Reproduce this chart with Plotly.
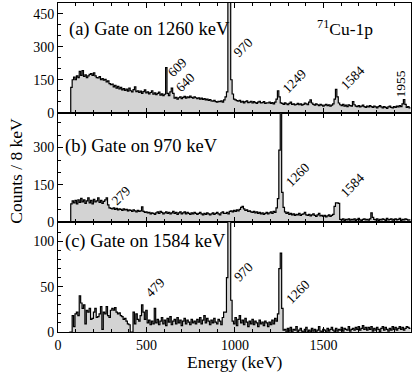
import plotly.graph_objects as go
from plotly.subplots import make_subplots

# 8 keV bins, first bin starts at 64 keV
bin_start = 64
bin_width = 8

# (a) gate on 1260 keV
gate_1260 = [
    0, 115, 150, 162, 150, 168, 160, 188, 170, 192,
    165, 172, 160, 168, 175, 178, 170, 182, 168, 160,
    158, 164, 150, 155, 148, 152, 140, 145, 132, 128,
    130, 118, 125, 112, 120, 108, 115, 104, 110, 102,
    108, 98, 112, 100, 95, 105, 118, 96, 100, 92,
    98, 88, 96, 104, 90, 95, 86, 92, 100, 84,
    90, 82, 88, 94, 80, 86, 78, 84, 205, 88,
    78, 95, 112, 88, 66, 70, 62, 68, 72, 64,
    70, 74, 66, 72, 68, 75, 70, 66, 72, 68,
    64, 68, 62, 66, 60, 64, 58, 62, 56, 60,
    54, 52, 56, 50, 48, 52, 50, 54, 48, 58,
    72, 95, 600, 1200, 150, 85, 62, 58, 55, 52,
    56, 48, 52, 45, 50, 54, 46, 48, 52, 44,
    50, 46, 42, 48, 52, 44, 46, 50, 42, 45,
    44, 48, 42, 46, 40, 48, 62, 100, 72, 45,
    42, 38, 45, 40, 36, 42, 48, 38, 40, 35,
    38, 42, 36, 40, 34, 38, 44, 40, 36, 48,
    58, 44, 38, 34, 40, 36, 32, 38, 34, 30,
    34, 38, 32, 36, 30, 34, 40, 62, 106, 72,
    44, 36, 32, 38, 30, 34, 28, 36, 32, 30,
    50, 36, 30, 28, 32, 26, 30, 34, 28, 24,
    30, 26, 32, 28, 24, 30, 26, 22, 28, 32,
    26, 22, 28, 24, 20, 26, 30, 24, 22, 28,
    24, 30, 26, 32, 28, 40, 60, 38, 24, 28,
    22,
]

# (b) gate on 970 keV
gate_970 = [
    0, 74, 86, 78, 88, 74, 90, 80, 96, 82,
    90, 76, 86, 98, 78, 88, 74, 92, 82, 86,
    98, 80, 88, 76, 84, 90, 98, 70, 58, 56,
    54, 58, 52, 56, 50, 54, 52, 48, 54, 50,
    52, 46, 50, 48, 44, 50, 46, 42, 48, 44,
    46, 62, 44, 40, 42, 38, 40, 34, 38, 36,
    32, 38, 42, 36, 44, 40, 34, 38, 42, 36,
    40, 34, 38, 44, 36, 40, 32, 38, 42, 34,
    38, 42, 34, 40, 36, 32, 38, 34, 40, 36,
    32, 36, 40, 34, 30, 36, 32, 38, 34, 30,
    34, 38, 32, 36, 40, 34, 30, 38, 42, 36,
    36, 40, 34, 44, 46, 42, 48, 44, 50, 46,
    52, 60, 64, 54, 48, 50, 44, 46, 42, 40,
    44, 38, 42, 36, 40, 34, 38, 32, 36, 40,
    34, 38, 42, 36, 44, 40, 58, 95, 290, 800,
    120, 60, 42, 36, 40, 32, 36, 30, 34, 28,
    32, 30, 36, 28, 32, 34, 40, 30, 28, 32,
    26, 30, 34, 28, 24, 30, 36, 26, 28, 24,
    28, 22, 26, 30, 24, 28, 32, 64, 78, 78,
    76, 12, 10, 14, 8, 12, 10, 14, 9, 12,
    10, 14, 8, 12, 16, 10, 8, 12, 14, 10,
    12, 9, 14, 38, 20, 12, 10, 14, 8, 12,
    10, 14, 12, 8, 16, 10, 12, 14, 9, 12,
    14, 10, 12, 16, 8, 12, 10, 14, 12, 9,
    10,
]

# (c) gate on 1584 keV
gate_1584 = [
    0, 0, 18, 6, 20, 22, 18, 40, 32, 26,
    30, 9, 24, 22, 26, 14, 15, 22, 26, 16,
    17, 20, 28, 3, 22, 20, 28, 18, 16, 24,
    26, 24, 27, 22, 20, 21, 18, 17, 14, 15,
    12, 9, 8, 0, 0, 22, 9, 20, 14, 12,
    18, 30, 22, 14, 24, 10, 13, 8, 12, 9,
    26, 10, 14, 8, 12, 16, 9, 13, 7, 15,
    11, 17, 8, 12, 14, 9, 16, 10, 13, 7,
    12, 15, 9, 13, 11, 8, 14, 10, 12, 9,
    14, 11, 16, 9, 13, 18, 10, 15, 12, 8,
    13, 10, 15, 11, 9, 14, 12, 8, 16, 22,
    22, 60, 300, 250, 35, 12, 9, 16, 7, 14,
    18, 10, 13, 8, 15, 11, 6, 12, 9, 14,
    8, 12, 10, 6, 13, 9, 11, 7, 12, 10,
    6, 11, 8, 13, 9, 15, 12, 20, 70, 87,
    26, 2, 3, 0, 4, 1, 5, 0, 3, 2,
    6, 0, 2, 4, 1, 0, 3, 5, 0, 2,
    0, 4, 1, 3, 0, 2, 6, 1, 0, 3,
    2, 0, 4, 1, 3, 5, 2, 0, 4, 1,
    3, 2, 5, 1, 4, 3, 2, 6, 1, 3,
    4, 2, 5, 3, 6, 2, 4, 7, 3, 5,
    2, 5, 3, 6, 1, 4, 2, 5, 3, 0,
    4, 6, 2, 5, 3, 1, 4, 2, 6, 3,
    5, 2, 4, 6, 3, 5, 2, 4, 6, 5,
    4,
]

spectra = [gate_1260, gate_970, gate_1584]
gate_titles = ["(a) Gate on 1260 keV", "(b) Gate on 970 keV", "(c) Gate on 1584 keV"]
y_ranges = [[0, 500], [0, 440], [0, 121]]
y_dticks = [150, 150, 50]
y_minor = [50, 50, 10]

# peak labels: (text, energy, counts) per panel
peaks_a = [("609", 673, 206), ("640", 718, 138), ("970", 1046, 297),
           ("1249", 1334, 142), ("1584", 1667, 160)]
peaks_b = [("279", 357, 107), ("1260", 1356, 192), ("1584", 1662, 148)]
peaks_c = [("479", 549, 49), ("970", 1051, 67), ("1260", 1356, 45)]

FONT = "Liberation Serif, Times New Roman, serif"

fig = make_subplots(rows=3, cols=1, shared_xaxes=True, vertical_spacing=0)

for k, counts in enumerate(spectra):
    edges = [bin_start + bin_width * i for i in range(len(counts) + 1)]
    fig.add_trace(go.Scatter(
        x=edges, y=counts + [counts[-1]],
        mode="lines", line=dict(shape="hv", color="black", width=1.2),
        fill="tozeroy", fillcolor="#d3d3d3", showlegend=False,
        hoverinfo="skip"), row=k + 1, col=1)

    fig.update_yaxes(range=y_ranges[k], dtick=y_dticks[k], tick0=0,
                     ticks="inside", ticklen=5, tickcolor="black",
                     minor=dict(dtick=y_minor[k], ticks="inside", ticklen=3, tickcolor="black"),
                     showline=True, linecolor="black", linewidth=1, mirror=True,
                     showgrid=False, zeroline=False,
                     tickfont=dict(family=FONT, size=14, color="black"),
                     row=k + 1, col=1)

fig.update_xaxes(range=[0, 1995], dtick=500, tick0=0,
                 ticks="inside", ticklen=5, tickcolor="black",
                 minor=dict(dtick=100, ticks="inside", ticklen=3, tickcolor="black"),
                 showline=True, linecolor="black", linewidth=1, mirror="allticks",
                 showgrid=False, zeroline=False,
                 tickfont=dict(family=FONT, size=14, color="black"))

annotations = []
gate_pos = [(49, 379), (27, 306), (30, 100)]
for k, title in enumerate(gate_titles):
    sfx = "" if k == 0 else str(k + 1)
    annotations.append(dict(
        text=title, x=gate_pos[k][0], y=gate_pos[k][1],
        xref="x" + sfx, yref="y" + sfx, xanchor="left", yanchor="middle",
        showarrow=False, font=dict(family=FONT, size=18.5, color="black")))

for k, peaks in enumerate([peaks_a, peaks_b, peaks_c]):
    sfx = "" if k == 0 else str(k + 1)
    for txt, e, c in peaks:
        annotations.append(dict(
            text=txt, x=e, y=c, xref="x" + sfx, yref="y" + sfx,
            textangle=-45, showarrow=False,
            font=dict(family=FONT, size=13.5, color="black")))

annotations.append(dict(text="1955", x=1933, y=129, xref="x", yref="y",
                        textangle=-90, showarrow=False,
                        font=dict(family=FONT, size=13.5, color="black")))
annotations.append(dict(text="<sup>71</sup>Cu-1p", x=1622, y=388, xref="x", yref="y",
                        showarrow=False, font=dict(family=FONT, size=17.5, color="black")))
annotations.append(dict(text="Counts / 8 keV", x=-0.119, y=0.49, xref="paper", yref="paper",
                        xanchor="center", yanchor="middle", textangle=-90, showarrow=False,
                        font=dict(family=FONT, size=17.5, color="black")))
annotations.append(dict(text="Energy (keV)", x=0.5, y=-0.091, xref="paper", yref="paper",
                        xanchor="center", yanchor="middle", showarrow=False,
                        font=dict(family=FONT, size=17.5, color="black")))

fig.update_layout(
    width=415, height=387,
    margin=dict(l=58, r=4, t=3, b=55),
    paper_bgcolor="white", plot_bgcolor="white",
    annotations=annotations,
)

# drop the default 8px page margin so the figure sits at the window origin
fig.write_html("out.html", config={"displayModeBar": False},
               post_script="document.body.style.margin='0';document.body.style.overflow='hidden';")
